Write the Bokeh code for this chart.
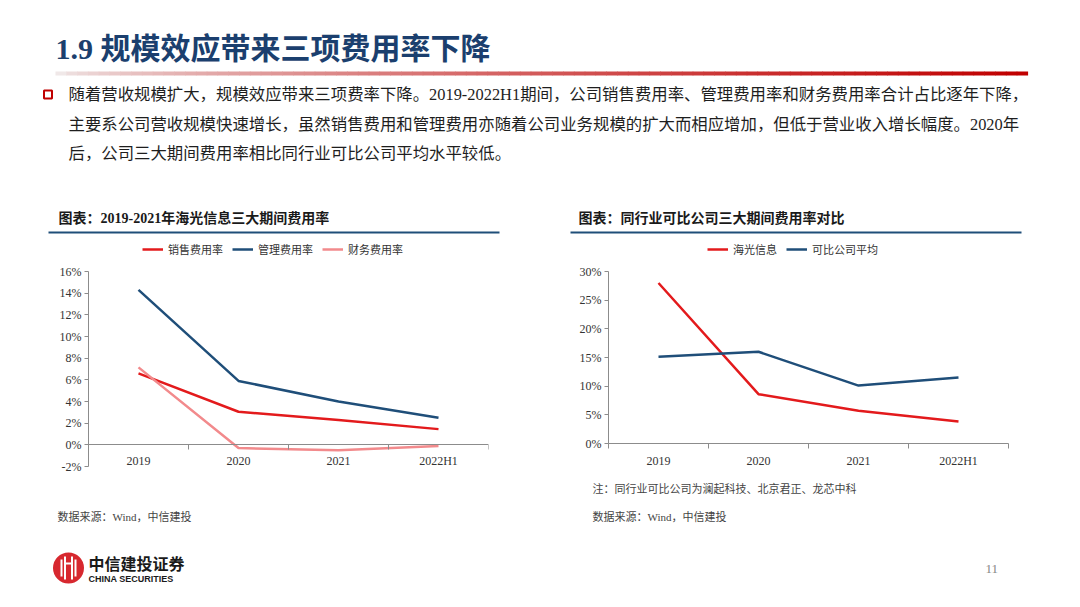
from bokeh.plotting import figure
from bokeh.layouts import column, row
from bokeh.models import (Range1d, FixedTicker, PrintfTickFormatter, Legend,
                          LegendItem)
from bokeh.core.properties import value
from bokeh.embed import file_html
from bokeh.resources import INLINE

# ---------------- data ----------------
categories = ["2019", "2020", "2021", "2022H1"]

# left chart: 海光信息三大期间费用率 (%)
left_names = ["销售费用率", "管理费用率", "财务费用率"]
sales_rate = [6.6, 3.05, 2.3, 1.45]
admin_rate = [14.3, 5.9, 4.0, 2.5]
finance_rate = [7.15, -0.3, -0.5, -0.1]
left_yticks = [-2, 0, 2, 4, 6, 8, 10, 12, 14, 16]

# right chart: 同行业可比公司三大期间费用率对比 (%)
right_names = ["海光信息", "可比公司平均"]
hygon_rate = [28.0, 8.6, 5.7, 3.85]
peer_avg_rate = [15.15, 16.0, 10.1, 11.5]
right_yticks = [0, 5, 10, 15, 20, 25, 30]

# ---------------- texts ----------------
title_text = "1.9 规模效应带来三项费用率下降"
bullet_lines = [
    "随着营收规模扩大，规模效应带来三项费率下降。2019-2022H1期间，公司销售费用率、管理费用率和财务费用率合计占比逐年下降，",
    "主要系公司营收规模快速增长，虽然销售费用和管理费用亦随着公司业务规模的扩大而相应增加，但低于营业收入增长幅度。2020年",
    "后，公司三大期间费用率相比同行业可比公司平均水平较低。",
]
left_title = "图表：2019-2021年海光信息三大期间费用率"
right_title = "图表：同行业可比公司三大期间费用率对比"
note_text = "注：同行业可比公司为澜起科技、北京君正、龙芯中科"
source_text = "数据来源：Wind，中信建投"
logo_cn = "中信建投证券"
logo_en = "CHINA SECURITIES"
page_no = "11"

# ---------------- style / layout constants (page pixels) ----------------
FONT = "'Liberation Serif', 'Noto Sans CJK SC'"
RED = "#E31A1C"
BLUE = "#1F4E79"
PINK = "#F28A8C"
AXIS = "#8C8C8C"
TITLE_BLUE = "#1B3F6E"

HEADER_H = 238
FRAME_TOP = 240          # frames start just below the header (legend lives inside)
AXIS_TOP = 271           # where the top tick sits
L_AXIS_BOTTOM = 466      # -2% in the left chart
L_FRAME_BOTTOM = 470
R_AXIS_BOTTOM = 443      # 0% in the right chart


def blank(width, height, x0, x1, y_top, y_bottom):
    p = figure(width=width, height=height, x_range=Range1d(x0, x1),
               y_range=Range1d(y_bottom, y_top), toolbar_location=None,
               output_backend="svg", x_axis_location=None, y_axis_location=None,
               min_border=0)
    p.grid.visible = False
    p.outline_line_color = None
    p.background_fill_color = "white"
    return p


# ---------------- header ----------------
hdr = blank(1080, HEADER_H, 0, 1080, 0, HEADER_H)
hdr.text(x=[55], y=[48], text=[title_text], text_font=value(FONT),
         text_font_style="bold", text_font_size="30px", text_color=TITLE_BLUE,
         text_baseline="middle", text_align="left")

# gradient rule under the title
n = 90
x_start, x_end = 55, 1027
step = (x_end - x_start) / n
lefts = [x_start + i * step for i in range(n)]
rights = [l + step + 0.6 for l in lefts]
cols = []
for i in range(n):
    t = (i / (n - 1)) ** 0.7
    r = int(240 + (192 - 240) * t)
    g = int(232 + (0 - 232) * t)
    b = int(232 + (0 - 232) * t)
    cols.append("#%02x%02x%02x" % (r, g, b))
hdr.quad(left=lefts, right=rights, top=[71] * n, bottom=[75] * n,
         fill_color=cols, line_color=None)

# bullet
hdr.rect(x=[47.5], y=[94], width=8, height=8, fill_color=None,
         line_color="#C00000", line_width=2)
hdr.text(x=[68] * 3, y=[94, 124, 153], text=bullet_lines, text_font=value(FONT),
         text_font_size="16.4px", text_color="#1e1e1e", text_baseline="middle",
         text_align="left")

# chart titles and rules
hdr.text(x=[58, 578], y=[218, 218], text=[left_title, right_title],
         text_font=value(FONT), text_font_style="bold", text_font_size="14px",
         text_color="#1a1a1a", text_baseline="middle", text_align="left")
hdr.segment(x0=[48, 570], x1=[499, 1021], y0=[232, 232], y1=[232, 232],
            line_color=BLUE, line_width=2)


# ---------------- charts ----------------
xpos = [i + 0.5 for i in range(len(categories))]
bounds = list(range(len(categories) + 1))


def style_axes(p, yticks, fixed_zero):
    xa = p.xaxis[0]
    xa.ticker = FixedTicker(ticks=xpos, minor_ticks=bounds)
    xa.major_label_overrides = {x: c for x, c in zip(xpos, categories)}
    xa.major_tick_out = 0
    xa.major_tick_in = 0
    xa.minor_tick_in = 0
    xa.minor_tick_out = 5
    xa.minor_tick_line_color = AXIS
    xa.axis_line_color = AXIS
    xa.major_label_standoff = 4 if fixed_zero else 5
    xa.major_label_text_font = "Liberation Serif"
    xa.major_label_text_font_size = "12px"
    xa.major_label_text_color = "#333333"
    if fixed_zero:
        xa.fixed_location = 0

    ya = p.yaxis[0]
    ya.ticker = FixedTicker(ticks=yticks)
    ya.bounds = (yticks[0], yticks[-1])
    ya.formatter = PrintfTickFormatter(format="%d%%")
    ya.major_tick_out = 4
    ya.major_tick_in = 0
    ya.minor_tick_out = 0
    ya.minor_tick_in = 0
    ya.major_tick_line_color = AXIS
    ya.axis_line_color = AXIS
    ya.major_label_standoff = 3
    ya.major_label_text_font = "Liberation Serif"
    ya.major_label_text_font_size = "12px"
    ya.major_label_text_color = "#333333"
    p.grid.visible = False
    p.outline_line_color = None


def add_legend(p, renderers, names, loc):
    items = [LegendItem(label=nm, renderers=[r]) for nm, r in zip(names, renderers)]
    leg = Legend(items=items, orientation="horizontal", location=loc,
                 padding=0, margin=0, spacing=9, glyph_width=21, glyph_height=12,
                 label_height=12, label_standoff=5, label_text_font=FONT,
                 label_text_font_size="11px", label_text_color="#333333",
                 border_line_color=None, background_fill_alpha=0)
    p.add_layout(leg, "center")


# left chart: frame extends a little above the top tick (room for the legend)
l_span = left_yticks[-1] - left_yticks[0]
l_ppu = (L_AXIS_BOTTOM - AXIS_TOP) / l_span
l_y0 = left_yticks[0] - (L_FRAME_BOTTOM - L_AXIS_BOTTOM) / l_ppu
l_y1 = left_yticks[-1] + (AXIS_TOP - FRAME_TOP) / l_ppu
left = figure(frame_width=400, frame_height=L_FRAME_BOTTOM - FRAME_TOP,
              x_range=Range1d(0, len(categories)), y_range=Range1d(l_y0, l_y1),
              toolbar_location=None, output_backend="svg",
              min_border_left=88, min_border_right=60,
              min_border_top=FRAME_TOP - HEADER_H, min_border_bottom=30)
left.title.visible = False
style_axes(left, left_yticks, True)
r1 = left.line(xpos, sales_rate, line_color=RED, line_width=2.5)
r2 = left.line(xpos, admin_rate, line_color=BLUE, line_width=2.5)
r3 = left.line(xpos, finance_rate, line_color=PINK, line_width=2.5)
add_legend(left, [r1, r2, r3], left_names, (54, L_FRAME_BOTTOM - 250 - 7))

r_span = right_yticks[-1] - right_yticks[0]
r_ppu = (R_AXIS_BOTTOM - AXIS_TOP) / r_span
r_y1 = right_yticks[-1] + (AXIS_TOP - FRAME_TOP) / r_ppu
right = figure(frame_width=400, frame_height=R_AXIS_BOTTOM - FRAME_TOP,
               x_range=Range1d(0, len(categories)),
               y_range=Range1d(right_yticks[0], r_y1),
               toolbar_location=None, output_backend="svg",
               min_border_left=60, min_border_right=72,
               min_border_top=FRAME_TOP - HEADER_H, min_border_bottom=37)
right.title.visible = False
style_axes(right, right_yticks, False)
q1 = right.line(xpos, hygon_rate, line_color=RED, line_width=2.5)
q2 = right.line(xpos, peer_avg_rate, line_color=BLUE, line_width=2.5)
add_legend(right, [q1, q2], right_names, (99, R_AXIS_BOTTOM - 250 - 7))

# ---------------- footers ----------------
l_top = L_FRAME_BOTTOM + 30
lftr = blank(548, 607 - l_top, 0, 548, l_top, 607)
lftr.text(x=[57], y=[516], text=[source_text], text_font=value(FONT),
          text_font_size="11px", text_color="#444444", text_baseline="middle",
          text_align="left")
# logo
lftr.scatter(x=[68], y=[567.5], size=31, marker="circle", fill_color="#D7282F",
             line_color=None)
lftr.segment(x0=[61, 64.5, 71.5, 75], x1=[61, 64.5, 71.5, 75],
             y0=[559, 556, 556, 559], y1=[576, 579, 579, 576],
             line_color="white", line_width=2)
lftr.segment(x0=[64.5], x1=[71.5], y0=[563], y1=[563], line_color="white",
             line_width=2)
lftr.text(x=[88], y=[562], text=[logo_cn], text_font=value("Noto Sans CJK SC"),
          text_font_style="bold", text_font_size="16px", text_color="#1a1a1a",
          text_baseline="middle", text_align="left")
lftr.text(x=[88], y=[578], text=[logo_en], text_font=value("Liberation Sans"),
          text_font_style="bold", text_font_size="9px", text_color="#1a1a1a",
          text_baseline="middle", text_align="left")

r_top = R_AXIS_BOTTOM + 37
rftr = blank(532, 607 - r_top, 548, 1080, r_top, 607)
rftr.text(x=[592], y=[488], text=[note_text], text_font=value(FONT),
          text_font_size="11px", text_color="#444444", text_baseline="middle",
          text_align="left")
rftr.text(x=[592], y=[516], text=[source_text], text_font=value(FONT),
          text_font_size="11px", text_color="#444444", text_baseline="middle",
          text_align="left")
rftr.text(x=[985], y=[568], text=[page_no], text_font=value("Liberation Serif"),
          text_font_size="13px", text_color="#888888", text_baseline="middle",
          text_align="left")

layout = column(hdr, row(column(left, row(lftr)), column(right, row(rftr))))
open("out.html", "w").write(file_html(layout, INLINE))
